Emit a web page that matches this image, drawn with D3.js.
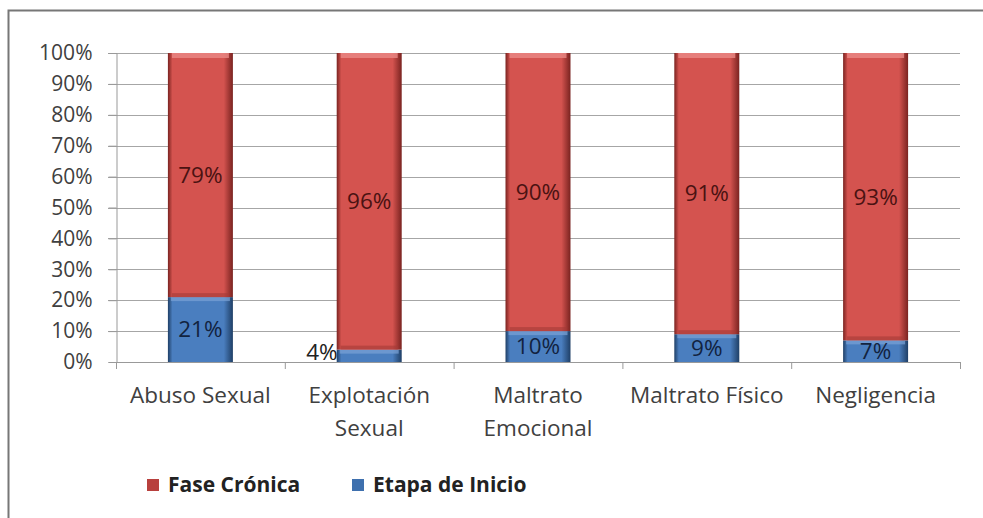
<!DOCTYPE html>
<html><head><meta charset="utf-8">
<script src="https://cdn.jsdelivr.net/npm/d3@7"></script>
<style>body{margin:0;background:#fff}svg{display:block}text{font-family:"Open Sans",Lato,sans-serif}</style>
</head><body>
<svg id="c" width="983" height="518"></svg>
<script>
const categories = [["Abuso Sexual"], ["Explotación", "Sexual"], ["Maltrato", "Emocional"], ["Maltrato Físico"], ["Negligencia"]];
const faseCronica = [79, 96, 90, 91, 93];
const etapaInicio = [21, 4, 10, 9, 7];
const yTicks = [0, 10, 20, 30, 40, 50, 60, 70, 80, 90, 100];
const seriesNames = ["Fase Crónica", "Etapa de Inicio"];

const svg = d3.select("#c");
const defs = svg.append("defs");
function grad(id, mid, dark) {
  const g = defs.append("linearGradient").attr("id", id).attr("x1", "0").attr("x2", "1").attr("y1", "0").attr("y2", "0");
  g.append("stop").attr("offset", "0").attr("stop-color", dark);
  g.append("stop").attr("offset", "0.07").attr("stop-color", mid);
  g.append("stop").attr("offset", "0.86").attr("stop-color", mid);
  g.append("stop").attr("offset", "1").attr("stop-color", dark);
}
grad("gRed", "#D4534F", "#7a2320");
grad("gBlue", "#4A7EBF", "#1f3f66");

// frame
svg.append("path").attr("d", "M8.5,518 V10.5 H983").attr("fill", "none").attr("stroke", "#777").attr("stroke-width", 2);

const x0 = 116, x1 = 960, yTop = 53, yBot = 362;
const x = d3.scaleBand().domain(d3.range(categories.length)).range([x0, x1]).paddingInner(0.615).paddingOuter(0.3075);
const y = d3.scaleLinear().domain([0, 100]).range([yBot, yTop]);

// gridlines
svg.append("g").selectAll("line").data(yTicks.filter(d => d > 0)).join("line")
  .attr("x1", x0 - 8).attr("x2", x1).attr("y1", d => Math.round(y(d)) + 0.5).attr("y2", d => Math.round(y(d)) + 0.5)
  .attr("stroke", "#a6a6a6").attr("stroke-width", 1.2);

// y axis
const yAxis = svg.append("g").attr("transform", `translate(${x0 + 0.5},0)`)
  .call(d3.axisLeft(y).tickValues(yTicks).tickFormat(d => d + "%").tickSize(8).tickPadding(16));
yAxis.select(".domain").attr("stroke", "#999");
yAxis.selectAll(".tick line").attr("stroke", "#999");
yAxis.selectAll("text").attr("font-size", 21).attr("fill", "#404040").attr("font-family", "'Open Sans',sans-serif");

// x axis baseline + ticks at boundaries
svg.append("line").attr("x1", x0).attr("x2", x1).attr("y1", yBot + 0.5).attr("y2", yBot + 0.5).attr("stroke", "#999").attr("stroke-width", 1.2);
svg.append("g").selectAll("line").data(d3.range(categories.length + 1)).join("line")
  .attr("x1", i => x0 + i * (x1 - x0) / categories.length + 0.5).attr("x2", i => x0 + i * (x1 - x0) / categories.length + 0.5)
  .attr("y1", yBot).attr("y2", yBot + 7).attr("stroke", "#999");

// category labels
svg.append("g").selectAll("text").data(categories).join("text")
  .attr("x", (d, i) => x(i) + x.bandwidth() / 2).attr("y", 403)
  .attr("text-anchor", "middle").attr("font-size", 22.5).attr("fill", "#404040")
  .each(function (d) {
    d.forEach((t, j) => d3.select(this).append("tspan").attr("x", d3.select(this).attr("x")).attr("dy", j ? 33 : 0).text(t));
  });

// bars
const bw = x.bandwidth();
const gB = svg.append("g");
categories.forEach((c, i) => {
  const bx = x(i);
  gB.append("rect").attr("x", bx).attr("y", y(etapaInicio[i])).attr("width", bw).attr("height", yBot - y(etapaInicio[i])).attr("fill", "url(#gBlue)");
  gB.append("rect").attr("x", bx + 3).attr("y", y(etapaInicio[i])).attr("width", bw - 6).attr("height", Math.min(4, yBot - y(etapaInicio[i]))).attr("fill", "#7aa3d6").attr("opacity", 0.7);
  const top = etapaInicio[i] + faseCronica[i];
  gB.append("rect").attr("x", bx).attr("y", y(top)).attr("width", bw).attr("height", y(etapaInicio[i]) - y(top)).attr("fill", "url(#gRed)");
  gB.append("rect").attr("x", bx + 4).attr("y", y(top)).attr("width", bw - 8).attr("height", 5).attr("fill", "#ea8a86").attr("opacity", 0.8);
  gB.append("rect").attr("x", bx + 4).attr("y", y(etapaInicio[i]) - 4).attr("width", bw - 8).attr("height", 4).attr("fill", "#a43a37").attr("opacity", 0.6);
});

// data labels
const gL = svg.append("g").attr("font-size", 22.5).attr("text-anchor", "middle");
categories.forEach((c, i) => {
  const cx = x(i) + bw / 2;
  gL.append("text").attr("x", cx).attr("y", y(etapaInicio[i] + faseCronica[i] / 2)).attr("dy", "0.35em").attr("fill", "#4a1212").text(faseCronica[i] + "%");
  if (etapaInicio[i] >= 7) {
    gL.append("text").attr("x", cx).attr("y", y(etapaInicio[i] / 2)).attr("dy", "0.35em").attr("fill", "#12233f").text(etapaInicio[i] + "%");
  } else {
    gL.append("text").attr("x", x(i) + 1).attr("y", y(etapaInicio[i] / 2) - 4).attr("dy", "0.35em").attr("text-anchor", "end").attr("fill", "#222").text(etapaInicio[i] + "%");
  }
});

// legend
const leg = svg.append("g");
const legItems = [{ n: seriesNames[0], c: "#B8403D", x: 147 }, { n: seriesNames[1], c: "#3E70AE", x: 352 }];
legItems.forEach(d => {
  leg.append("rect").attr("x", d.x).attr("y", 479).attr("width", 12).attr("height", 12).attr("fill", d.c);
  leg.append("text").attr("x", d.x + 21).attr("y", 485).attr("dy", "0.35em").attr("font-size", 21).attr("font-weight", "bold").attr("fill", "#222").text(d.n);
});
</script>
</body></html>
